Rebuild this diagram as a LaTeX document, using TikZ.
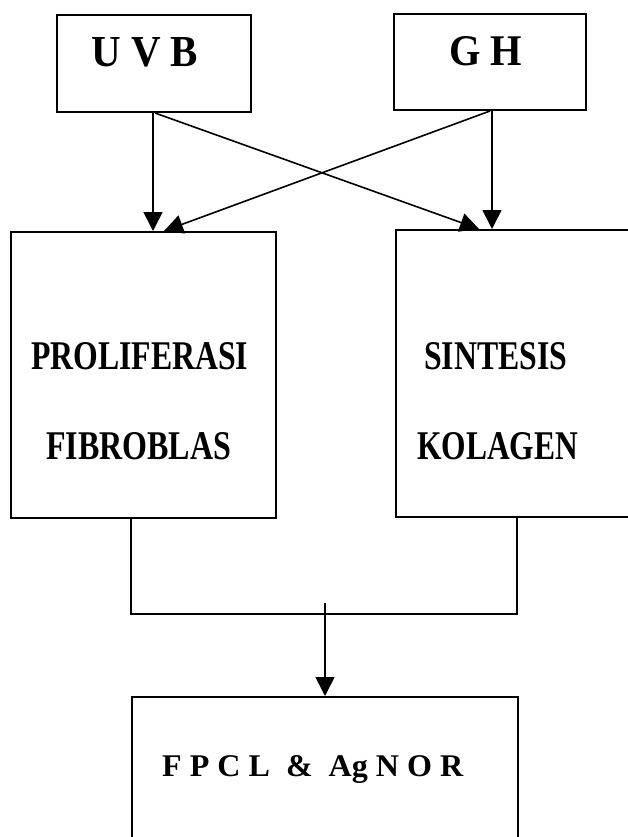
\documentclass[tikz,border=0pt]{standalone}
\usepackage{fontspec}
\setmainfont{Liberation Serif}
\usetikzlibrary{arrows.meta,calc}
\tikzset{
  box/.style={draw=black, line width=2pt, rectangle, inner sep=0pt, fill=none},
  conn/.style={draw=black, line width=1.6pt},
  arr/.style={conn, -{Triangle[length=19pt,width=19pt]}},
  lbl/.style={inner sep=0pt, anchor=base west, font=\bfseries}
}
\begin{document}
\begin{tikzpicture}[x=1pt,y=-1pt]
\fill[white] (0,0) rectangle (628,837);
\clip (0,0) rectangle (628,837);
\useasboundingbox (0,0) rectangle (628,837);
% boxes
\node[box, minimum width=194pt, minimum height=97pt] (uvb) at (154,63.5) {};
\node[box, minimum width=192pt, minimum height=96pt] (gh) at (490,62) {};
\node[box, minimum width=265pt, minimum height=286pt] (lb) at (143.5,375) {};
\node[box, minimum width=280pt, minimum height=287pt] (rb) at (536,373.5) {};
\node[box, minimum width=386pt, minimum height=200pt] (bt) at (325,797) {};
% texts
\node[lbl] (tuvb) at (91,67) {\resizebox{107pt}{29pt}{U V B}};
\node[lbl] (tgh) at (449,66) {\resizebox{73pt}{29pt}{G H}};
\node[lbl] (tpro) at (31,369) {\resizebox{217pt}{27pt}{PROLIFERASI}};
\node[lbl] (tfib) at (46,459) {\resizebox{185pt}{27pt}{FIBROBLAS}};
\node[lbl] (tsin) at (424,369) {\resizebox{143pt}{27pt}{SINTESIS}};
\node[lbl] (tkol) at (417,459) {\resizebox{161pt}{27pt}{KOLAGEN}};
\node[lbl] (tfp) at (162,776) {\resizebox{301pt}{21pt}{F P C L\ \ \&\ \ Ag N O R}};
% arrows from top boxes
\draw[arr] ([xshift=-1pt]uvb.south) -- ([xshift=-1pt]uvb.south |- lb.north);
\draw[arr] ([xshift=1pt]uvb.south) -- ($(rb.north west)+(84,0)$);
\draw[arr] ([xshift=2pt]gh.south) -- ([xshift=2pt]gh.south |- rb.north);
\draw[arr] (gh.south) -- ($(lb.north west)+(154,0)$);
% joining connector
\coordinate (jl) at (131,614);
\coordinate (jr) at (517,614);
\coordinate (js) at (325,603);
\draw[conn] (lb.south -| jl) -- (jl) -- (jr) -- (rb.south -| jr);
\draw[arr] (js) -- (js |- bt.north);
\end{tikzpicture}
\end{document}
